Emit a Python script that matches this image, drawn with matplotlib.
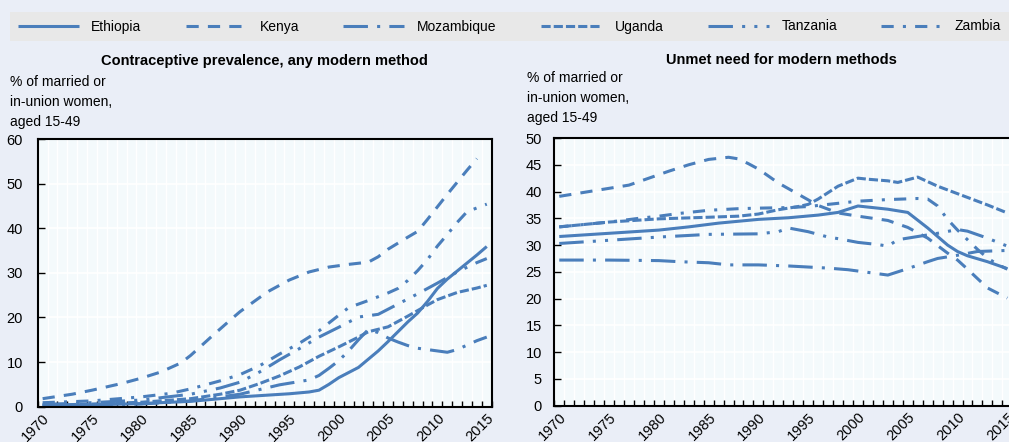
import numpy as np
import matplotlib
matplotlib.use("Agg")
import matplotlib.pyplot as plt

plt.rcParams['font.family'] = ['Liberation Sans', 'DejaVu Sans']

countries = ['Ethiopia', 'Kenya', 'Mozambique', 'Uganda', 'Tanzania', 'Zambia']

# ---- Contraceptive prevalence, any modern method (%) ----
cpr_eth_yr = [1970, 1975, 1980, 1985, 1990, 1995, 1997, 1998, 1999, 2000, 2002, 2004, 2005, 2006,
              2007, 2008, 2009, 2010, 2011, 2012, 2013, 2014, 2015]
cpr_eth = [0.3, 0.4, 0.7, 1.2, 2.2, 2.9, 3.3, 3.7, 5.0, 6.5, 8.8, 12.5, 14.6, 16.8,
           19.0, 21.0, 23.6, 26.5, 28.6, 30.4, 32.2, 34.0, 35.9]

cpr_ken_yr = [1970, 1973, 1975, 1978, 1980, 1982, 1984, 1985, 1987, 1989, 1990, 1992, 1993, 1995,
              1997, 1999, 2001, 2003, 2004, 2005, 2007, 2008, 2009, 2010, 2011, 2012, 2013, 2014]
cpr_ken = [1.8, 2.8, 3.7, 5.2, 6.4, 7.8, 9.8, 11.5, 15.5, 19.4, 21.3, 24.5, 26.0, 28.4,
           30.2, 31.3, 31.9, 32.4, 33.6, 35.3, 38.0, 39.3, 42.0, 44.8, 47.6, 50.3, 53.0, 55.6]

cpr_moz_yr = [1970, 1975, 1980, 1985, 1990, 1994, 1997, 1998, 1999, 2000, 2001, 2002, 2003, 2004,
              2005, 2006, 2007, 2008, 2009, 2010, 2011, 2012, 2013, 2014, 2015]
cpr_moz = [0.2, 0.3, 0.6, 1.3, 2.8, 4.9, 6.0, 7.0, 8.6, 10.3, 12.5, 15.0, 17.3, 16.6,
           15.4, 14.5, 13.7, 13.1, 12.8, 12.5, 12.2, 12.8, 13.8, 14.8, 15.6]

cpr_uga_yr = [1970, 1975, 1980, 1985, 1988, 1990, 1992, 1994, 1996, 1998, 2000, 2002, 2003, 2005,
              2007, 2009, 2010, 2012, 2014, 2015]
cpr_uga = [0.3, 0.6, 1.0, 1.8, 2.8, 3.7, 5.2, 6.9, 8.9, 11.3, 13.4, 15.6, 16.8, 17.9,
           20.3, 22.8, 24.0, 25.6, 26.6, 27.2]

cpr_tza_yr = [1970, 1975, 1980, 1985, 1988, 1990, 1992, 1994, 1996, 1998, 2000, 2002, 2004, 2006,
              2008, 2010, 2012, 2014, 2015]
cpr_tza = [0.5, 0.9, 1.5, 2.8, 4.2, 5.5, 7.8, 10.5, 13.0, 15.6, 17.8, 20.1, 20.7, 23.0,
           25.3, 27.7, 30.2, 32.3, 33.2]

cpr_zmb_yr = [1970, 1975, 1980, 1983, 1985, 1988, 1990, 1992, 1994, 1996, 1998, 2000, 2001, 2003,
              2005, 2006, 2007, 2008, 2009, 2010, 2011, 2012, 2013, 2015]
cpr_zmb = [0.9, 1.3, 2.2, 3.0, 4.0, 5.8, 7.2, 9.2, 11.8, 14.2, 17.0, 20.5, 22.2, 23.8,
           25.5, 26.5, 28.3, 30.5, 33.0, 36.0, 38.6, 41.3, 43.7, 45.4]

# ---- Unmet need for modern methods (%) ----
un_eth_yr = [1970, 1975, 1980, 1983, 1986, 1990, 1993, 1996, 1998, 2000, 2003, 2005, 2007, 2009,
             2010, 2011, 2013, 2015]
un_eth = [31.6, 32.2, 32.8, 33.4, 34.1, 34.8, 35.1, 35.6, 36.1, 37.3, 36.7, 36.1, 33.2, 30.0,
          28.8, 28.0, 26.9, 25.6]

un_ken_yr = [1970, 1973, 1975, 1977, 1979, 1981, 1983, 1985, 1987, 1988, 1989, 1990, 1992, 1994,
             1996, 1998, 2000, 2003, 2005, 2007, 2009, 2010, 2011, 2013, 2015]
un_ken = [39.1, 40.0, 40.6, 41.2, 42.5, 43.8, 45.0, 46.0, 46.4, 46.1, 45.2, 44.2, 41.6, 39.5,
          37.4, 36.0, 35.4, 34.6, 33.3, 31.3, 28.5, 27.2, 25.5, 22.0, 20.1]

un_moz_yr = [1970, 1975, 1980, 1982, 1985, 1987, 1990, 1993, 1995, 1997, 1999, 2001, 2003, 2005,
             2007, 2008, 2010, 2012, 2015]
un_moz = [27.2, 27.2, 27.1, 26.9, 26.7, 26.3, 26.3, 26.1, 25.9, 25.7, 25.4, 24.9, 24.4, 25.6,
          26.9, 27.5, 28.1, 28.8, 29.0]

un_uga_yr = [1970, 1975, 1980, 1985, 1988, 1990, 1992, 1994, 1995, 1996, 1998, 2000, 2001, 2003,
             2004, 2006, 2008, 2010, 2012, 2013, 2015]
un_uga = [33.4, 34.3, 34.9, 35.2, 35.4, 35.8, 36.6, 37.2, 37.6, 38.6, 41.0, 42.5, 42.3, 42.0,
          41.7, 42.7, 41.0, 39.6, 38.2, 37.5, 36.0]

un_tza_yr = [1970, 1975, 1980, 1985, 1990, 1992, 1993, 1995, 1997, 1998, 2000, 2002, 2003, 2004,
             2006, 2008, 2010, 2011, 2013, 2015]
un_tza = [30.3, 30.9, 31.5, 32.0, 32.1, 32.5, 33.2, 32.5, 31.5, 31.2, 30.5, 30.1, 29.8, 31.0,
          31.6, 32.2, 32.9, 32.6, 31.3, 29.8]

un_zmb_yr = [1970, 1975, 1978, 1980, 1982, 1985, 1988, 1990, 1993, 1995, 1997, 2000, 2003, 2006,
             2007, 2008, 2009, 2010, 2011, 2012, 2013, 2014, 2015]
un_zmb = [33.4, 34.3, 35.0, 35.4, 35.9, 36.5, 36.8, 36.9, 37.0, 37.2, 37.6, 38.2, 38.5, 38.7,
          38.6, 37.3, 34.8, 32.8, 31.0, 29.2, 27.6, 26.4, 25.5]

cpr_series = [(cpr_eth_yr, cpr_eth), (cpr_ken_yr, cpr_ken), (cpr_moz_yr, cpr_moz),
              (cpr_uga_yr, cpr_uga), (cpr_tza_yr, cpr_tza), (cpr_zmb_yr, cpr_zmb)]
un_series = [(un_eth_yr, un_eth), (un_ken_yr, un_ken), (un_moz_yr, un_moz),
             (un_uga_yr, un_uga), (un_tza_yr, un_tza), (un_zmb_yr, un_zmb)]

# Excel-like dash presets, in units of line width
dash_styles = [None, (4, 3), (8, 3, 1, 3), (3, 1), (8, 3, 1, 3, 1, 3), (4, 3, 1, 3)]

BLUE = '#4A7EBB'
FIG_BG = '#EAEEF7'
PLOT_BG = '#F4FAFC'
LW = 2.2
FS = 10
W, H = 1009, 442

fig = plt.figure(figsize=(W / 100, H / 100), dpi=100, facecolor=FIG_BG)
ax1 = fig.add_axes([37.7 / W, (H - 406.7) / H, 454 / W, 267.7 / H])
ax2 = fig.add_axes([554.3 / W, (H - 405.7) / H, 458 / W, 267.7 / H])


def style_axis(ax, ymax, ystep, ypad):
    ax.set_facecolor(PLOT_BG)
    ax.set_xlim(1969.5, 2015.5)
    ax.set_ylim(0, ymax)
    ax.set_xticks(range(1970, 2016, 5))
    ax.set_xticks(np.arange(1969.5, 2016, 1), minor=True)
    ax.set_yticks(np.arange(0, ymax + 1, ystep))
    ax.tick_params(axis='x', which='major', length=0, pad=3, labelsize=10.5, labelrotation=45)
    plt.setp(ax.get_xticklabels(), ha='right', va='top', rotation_mode='anchor')
    ax.tick_params(axis='x', which='minor', direction='in', length=4, width=1, color='black')
    ax.tick_params(axis='y', direction='in', length=5, width=1, pad=ypad, labelsize=10.5)
    ax.grid(axis='y', which='major', color='white', lw=1.2)
    ax.grid(axis='x', which='minor', color='white', lw=1.0)
    ax.set_axisbelow(True)
    for s in ax.spines.values():
        s.set_linewidth(1.5)
        s.set_color('black')


def draw_lines(ax, series):
    handles = []
    for (yrs, vals), ds in zip(series, dash_styles):
        if ds is None:
            ln, = ax.plot(yrs, vals, color=BLUE, lw=LW, solid_capstyle='butt')
        else:
            ln, = ax.plot(yrs, vals, color=BLUE, lw=LW, dashes=ds, dash_capstyle='butt')
        handles.append(ln)
    return handles


style_axis(ax1, 60, 10, 10.5)
style_axis(ax2, 50, 5, 9)
handles = draw_lines(ax1, cpr_series)
draw_lines(ax2, un_series)

fig.text(264.7 / W, 1 - 61 / H, 'Contraceptive prevalence, any modern method',
         ha='center', va='center', fontsize=10.5, fontweight='bold')
fig.text(781 / W, 1 - 60 / H, 'Unmet need for modern methods',
         ha='center', va='center', fontsize=10.5, fontweight='bold')
ylab = '% of married or\nin-union women,\naged 15-49'
fig.text(10 / W, 1 - 75 / H, ylab, ha='left', va='top', fontsize=FS, linespacing=1.55)
fig.text(527 / W, 1 - 71 / H, ylab, ha='left', va='top', fontsize=FS, linespacing=1.55)

leg = fig.legend(handles, countries, loc='center', ncol=6, mode='expand',
                 bbox_to_anchor=(10 / W, 1 - 42 / H, 999 / W, 31 / H),
                 frameon=True, fancybox=False, facecolor='#E8E8E8', edgecolor='none',
                 framealpha=1, handlelength=4.4, handletextpad=0.9, fontsize=FS,
                 borderaxespad=0, borderpad=0.55)

fig.savefig('out.png', dpi=100, facecolor=FIG_BG)
